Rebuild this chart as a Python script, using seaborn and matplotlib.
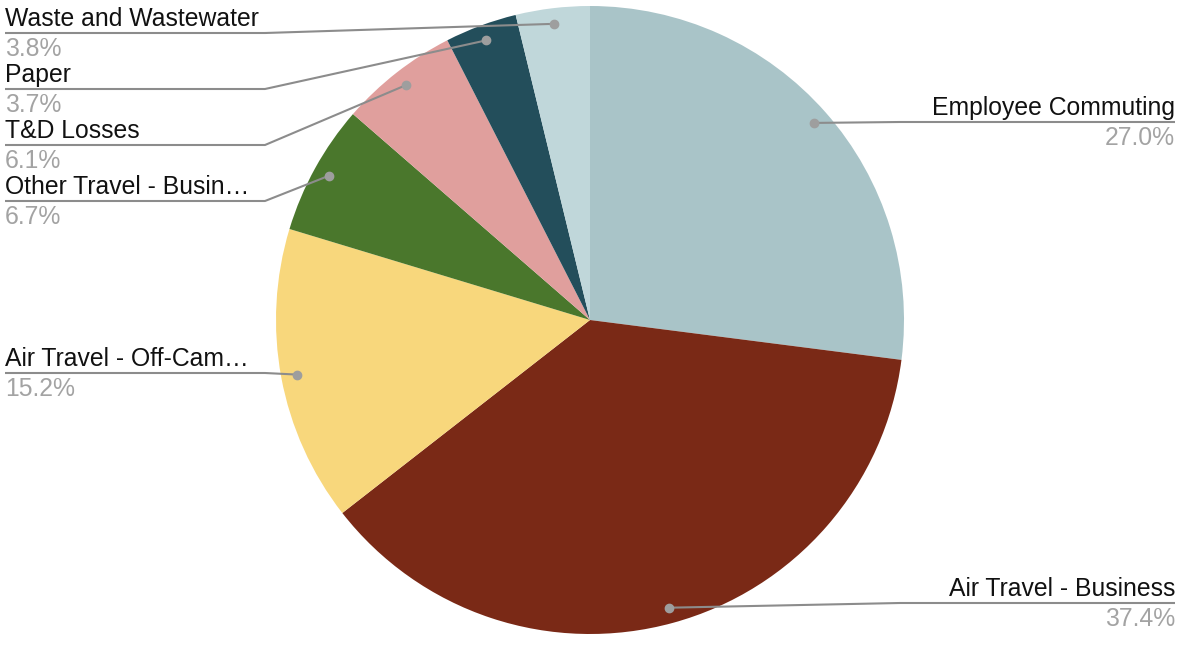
import numpy as np
import matplotlib
matplotlib.use("Agg")
import matplotlib.pyplot as plt
import seaborn as sns

categories = ["Employee Commuting", "Air Travel - Business", "Air Travel - Off-Cam…",
              "Other Travel - Busin…", "T&D Losses", "Paper", "Waste and Wastewater"]
values = [27.0, 37.4, 15.2, 6.7, 6.1, 3.7, 3.8]
pct_labels = ["27.0%", "37.4%", "15.2%", "6.7%", "6.1%", "3.7%", "3.8%"]
colors = ["#a9c4c8", "#7a2916", "#f8d77c", "#4a772c", "#e09f9d", "#234e5b", "#c0d7da"]

# layout (pixel units, y measured from top)
W, H = 1197, 670
center = (590, 320)
radius = 314
side = ["R", "R", "L", "L", "L", "L", "L"]
underline_y = [122, 603, 373, 201, 145, 89, 33]

sns.set_theme(style="white")
plt.rcParams['font.family'] = ['Liberation Sans', 'DejaVu Sans']

fig = plt.figure(figsize=(W / 100, H / 100), dpi=100)
ax = fig.add_axes([0, 0, 1, 1])

cy = H - center[1]
wedges, _ = ax.pie(values, colors=colors, startangle=90, counterclock=False,
                   center=(center[0], cy), radius=radius,
                   wedgeprops=dict(linewidth=0))
ax.set_xlim(0, W)
ax.set_ylim(0, H)
ax.set_aspect("equal")
ax.axis("off")

line_c = "#8c8c8c"
for w, lab, pct, s, uy in zip(wedges, categories, pct_labels, side, underline_y):
    ang = np.deg2rad((w.theta1 + w.theta2) / 2)
    dx = center[0] + 0.95 * radius * np.cos(ang)
    dy = cy + 0.95 * radius * np.sin(ang)
    yy = H - uy
    if s == "L":
        xs = [5, 265, dx] if dx > 275 else [5, dx]
        ys = [yy, yy, dy] if dx > 275 else [yy, dy]
        tx, ha = 5, "left"
    else:
        xs = [1175, 900, dx]
        ys = [yy, yy, dy]
        tx, ha = 1175, "right"
    ax.plot(xs, ys, color=line_c, lw=1.5, solid_capstyle="butt", zorder=3)
    ax.plot([dx], [dy], "o", color="#9e9e9e", ms=6, zorder=4)
    ax.text(tx, yy + 2, lab, ha=ha, va="bottom", fontsize=17.8, color="#111111")
    ax.text(tx, yy - 4, pct, ha=ha, va="top", fontsize=17.8, color="#a3a3a3")

fig.savefig("out.png", dpi=100, facecolor="white")
